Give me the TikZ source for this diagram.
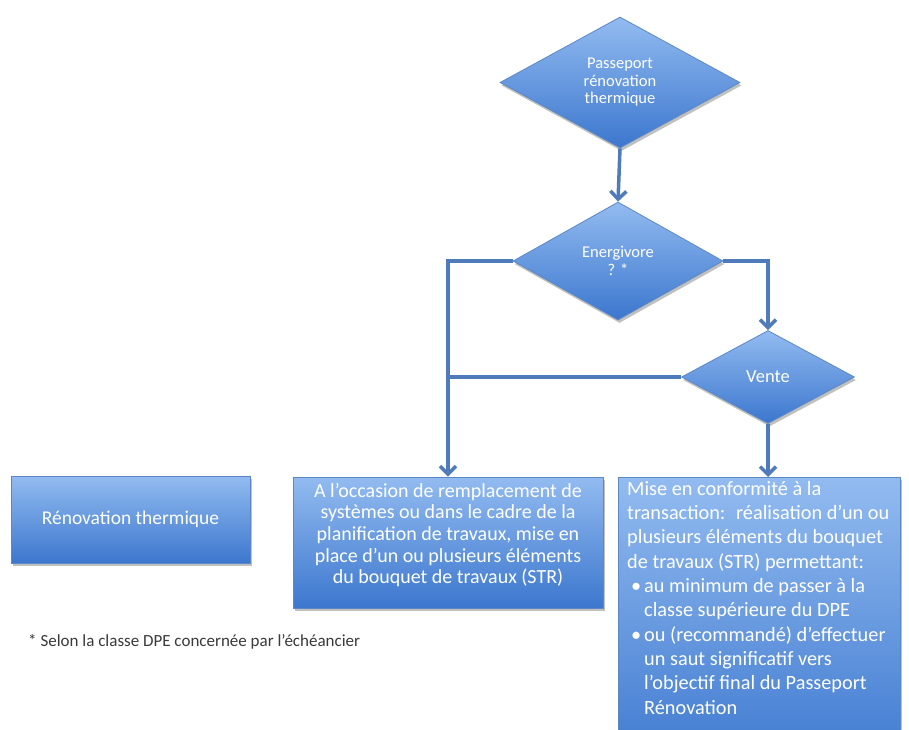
\documentclass[tikz,border=0pt]{standalone}
\usepackage{fontspec}
\setmainfont{Carlito}
\usetikzlibrary{shapes.geometric,arrows.meta,shadows}
\definecolor{boxtop}{HTML}{92BBF0}
\definecolor{boxbot}{HTML}{3C77CE}
\definecolor{boxedge}{HTML}{5C88C6}
\definecolor{conn}{HTML}{4F7BBA}
\definecolor{fntext}{HTML}{3A3A3A}
\tikzset{
  blueshape/.style={draw=boxedge, line width=0.8pt, top color=boxtop, bottom color=boxbot,
    text=white, inner sep=0pt, align=center,
    drop shadow={shadow xshift=1.5pt, shadow yshift=-3pt, opacity=.35, fill=black!70}},
  decision/.style={blueshape, diamond, font=\fontsize{16.5}{17.5}\selectfont},
  stepbox/.style={blueshape, rectangle, font=\fontsize{20}{21.7}\selectfont},
  boxtext/.style={text=white, inner sep=0pt, font=\fontsize{20}{21.7}\selectfont},
  conn/.style={draw=conn, line width=3.5pt, -{Straight Barb[length=8pt,width=16pt]}},
  connplain/.style={draw=conn, line width=3.5pt},
}
\begin{document}
\begin{tikzpicture}[x=1pt,y=-1pt]
\useasboundingbox (0,0) rectangle (909,729);
\fill[white] (0,0) rectangle (909,729);
\begin{scope}
\clip (0,0) rectangle (909,729);
% decisions
\node[decision, shape aspect=1.83, minimum width=240, minimum height=131] (pass) at (620,82.5) {Passeport\\rénovation\\thermique};
\node[decision, shape aspect=1.78, minimum width=210, minimum height=118] (ener) at (618,261) {Energivore\\? *};
\node[decision, shape aspect=1.86, minimum width=173, minimum height=93, font=\fontsize{18.5}{20}\selectfont] (vente) at (768,377) {Vente};
% boxes
\node[stepbox, minimum width=239, minimum height=87, font=\fontsize{19.5}{22}\selectfont] (reno) at (130.5,519.5) {Rénovation thermique};
\node[stepbox, minimum width=310, minimum height=131] (mid) at (448,542.5) {};
\node[boxtext, align=center] (midtext) at (448,535) {A l’occasion de remplacement de\\systèmes ou dans le cadre de la\\planification de travaux, mise en\\place d’un ou plusieurs éléments\\du bouquet de travaux (STR)};
\node[stepbox, minimum width=282, minimum height=300, anchor=north] (right) at (759,477) {};
\node[boxtext, anchor=north west, align=left, font=\fontsize{20.3}{24.3}\selectfont] (righttext) at (627,481)
 {Mise en conformité à la\\
  transaction:~ réalisation d’un ou\\
  plusieurs éléments du bouquet\\
  de travaux (STR) permettant:\\
  \makebox[17pt][l]{\hspace{4pt}•}au minimum de passer à la\\
  \hspace*{17pt}classe supérieure du DPE\\
  \makebox[17pt][l]{\hspace{4pt}•}ou (recommandé) d’effectuer\\
  \hspace*{17pt}un saut significatif vers\\
  \hspace*{17pt}l’objectif final du Passeport\\
  \hspace*{17pt}Rénovation};
% connectors
\draw[conn] (pass.south) -- (ener.north);
\draw[conn] (ener.west) -| (mid.north);
\draw[conn] (ener.east) -| (vente.north);
\draw[connplain] (vente.west) -- (vente.west -| mid.north);
\draw[conn] (vente.south) -- (vente.south |- right.north);
\end{scope}
% footnote
\node[anchor=west, text=fntext, inner sep=0pt, font=\fontsize{17}{18}\selectfont] (foot) at (28,642) {* Selon la classe DPE concernée par l’échéancier};
\end{tikzpicture}
\end{document}
